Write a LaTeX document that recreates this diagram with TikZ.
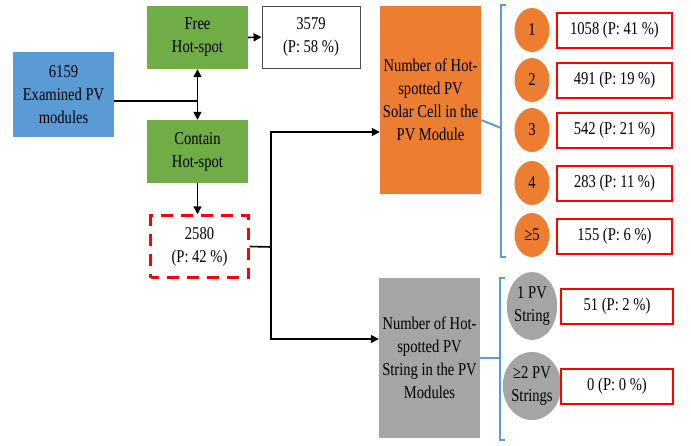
\documentclass[tikz,border=0pt]{standalone}
\usepackage{fontspec}
\setmainfont{Liberation Serif}[FakeStretch=0.81]
\usetikzlibrary{arrows.meta,shapes.geometric,calc}
\definecolor{cblue}{HTML}{5B9BD5}
\definecolor{cgreen}{HTML}{70AD47}
\definecolor{corange}{HTML}{ED7D31}
\definecolor{cgray}{HTML}{A5A5A5}
\definecolor{cred}{HTML}{FF0000}
\tikzset{
  every node/.style={font=\fontsize{18}{23}\selectfont, align=center, inner sep=0pt},
  filled/.style={draw=none, minimum width=101pt},
  resbox/.style={draw=cred, line width=2pt, fill=white, minimum width=115pt, minimum height=35pt},
  oval/.style={ellipse, fill=corange, minimum width=35pt, minimum height=44pt},
  goval/.style={ellipse, fill=cgray, minimum width=50pt, minimum height=68pt},
  arr/.style={line width=1.6pt, -{Triangle[length=8pt,width=8pt]}},
  plain/.style={line width=1.6pt},
  brk/.style={draw=cblue, line width=2pt},
}
\begin{document}
\begin{tikzpicture}[x=1pt,y=-1pt]
\useasboundingbox (0,0) rectangle (691,445);
% left column
\node[filled, fill=cblue, minimum height=85pt] (blue) at (63.5,94.5) {6159\\Examined PV\\modules};
\node[filled, fill=cgreen, minimum height=63pt] (free) at (197.5,37.5) {Free\\Hot-spot};
\node[draw=black!70, line width=0.8pt, minimum width=98pt, minimum height=62pt] (r3579) at (311,37) {3579\\(P: 58 \%)};
\node[filled, fill=cgreen, minimum height=63pt] (contain) at (197.5,151.5) {Contain\\Hot-spot};
\node[draw=cred, line width=2.5pt, dash pattern=on 12pt off 8pt, dash phase=4pt, minimum width=98pt, minimum height=62pt] (r2580) at (199.5,246.5) {2580\\(P: 42 \%)};
% middle boxes
\node[filled, fill=corange, minimum height=188pt] (orange) at (430.5,100) {Number of Hot-\\spotted PV\\Solar Cell in the\\PV Module};
\node[filled, fill=cgray, minimum height=160pt] (gray) at (429.5,358) {Number of Hot-\\spotted PV\\String in the PV\\Modules};
% orange circles and results
\node[oval] (o1) at (532,30) {1};
\node[oval] (o2) at (532,80) {2};
\node[oval] (o3) at (532,130) {3};
\node[oval] (o4) at (532,183) {4};
\node[oval] (o5) at (532,235) {≥5};
\node[resbox] (b1) at (614.5,30) {1058 (P: 41 \%)};
\node[resbox] (b2) at (614.5,80) {491 (P: 19 \%)};
\node[resbox] (b3) at (614.5,130) {542 (P: 21 \%)};
\node[resbox] (b4) at (614.5,183) {283 (P: 11 \%)};
\node[resbox] (b5) at (614.5,236) {155 (P: 6 \%)};
% gray circles and results
\node[goval] (g1) at (532,306) {1 PV\\String};
\node[goval] (g2) at (532,386) {≥2 PV\\Strings};
\node[resbox, minimum width=112pt] (gb1) at (617,306) {51 (P: 2 \%)};
\node[resbox, minimum width=112pt] (gb2) at (617,386) {0 (P: 0 \%)};
% connectors
\coordinate (j) at (197.5,101);
\draw[plain] (blue.east |- j) -- (j);
\draw[arr] (j) -- (free.south);
\draw[arr] (j) -- (contain.north);
\draw[arr] (free.east) -- (r3579.west);
\draw[arr] (contain.south) -- (contain.south |- r2580.north);
\coordinate (b) at (271,247);
\coordinate (bt) at (271,132);
\coordinate (bb) at (271,339);
\draw[plain] (r2580.east) -- (b);
\draw[arr] (b) |- (bt -| orange.west);
\draw[arr] (b) |- (bb -| gray.west);
% brackets
\coordinate (ot) at (501,5);
\coordinate (ob) at (501,257);
\coordinate (om) at (501,128);
\draw[brk] ($(ot)+(5,0)$) -- (ot) -- (ob) -- ($(ob)+(5,0)$);
\draw[brk] (orange.east |- 0,120) -- (om);
\coordinate (gt) at (500,278);
\coordinate (gbm) at (500,440);
\coordinate (gm) at (500,358);
\draw[brk] ($(gt)+(5,0)$) -- (gt) -- (gbm) -- ($(gbm)+(5,0)$);
\draw[brk] (gray.east |- gm) -- (gm);
\end{tikzpicture}
\end{document}
